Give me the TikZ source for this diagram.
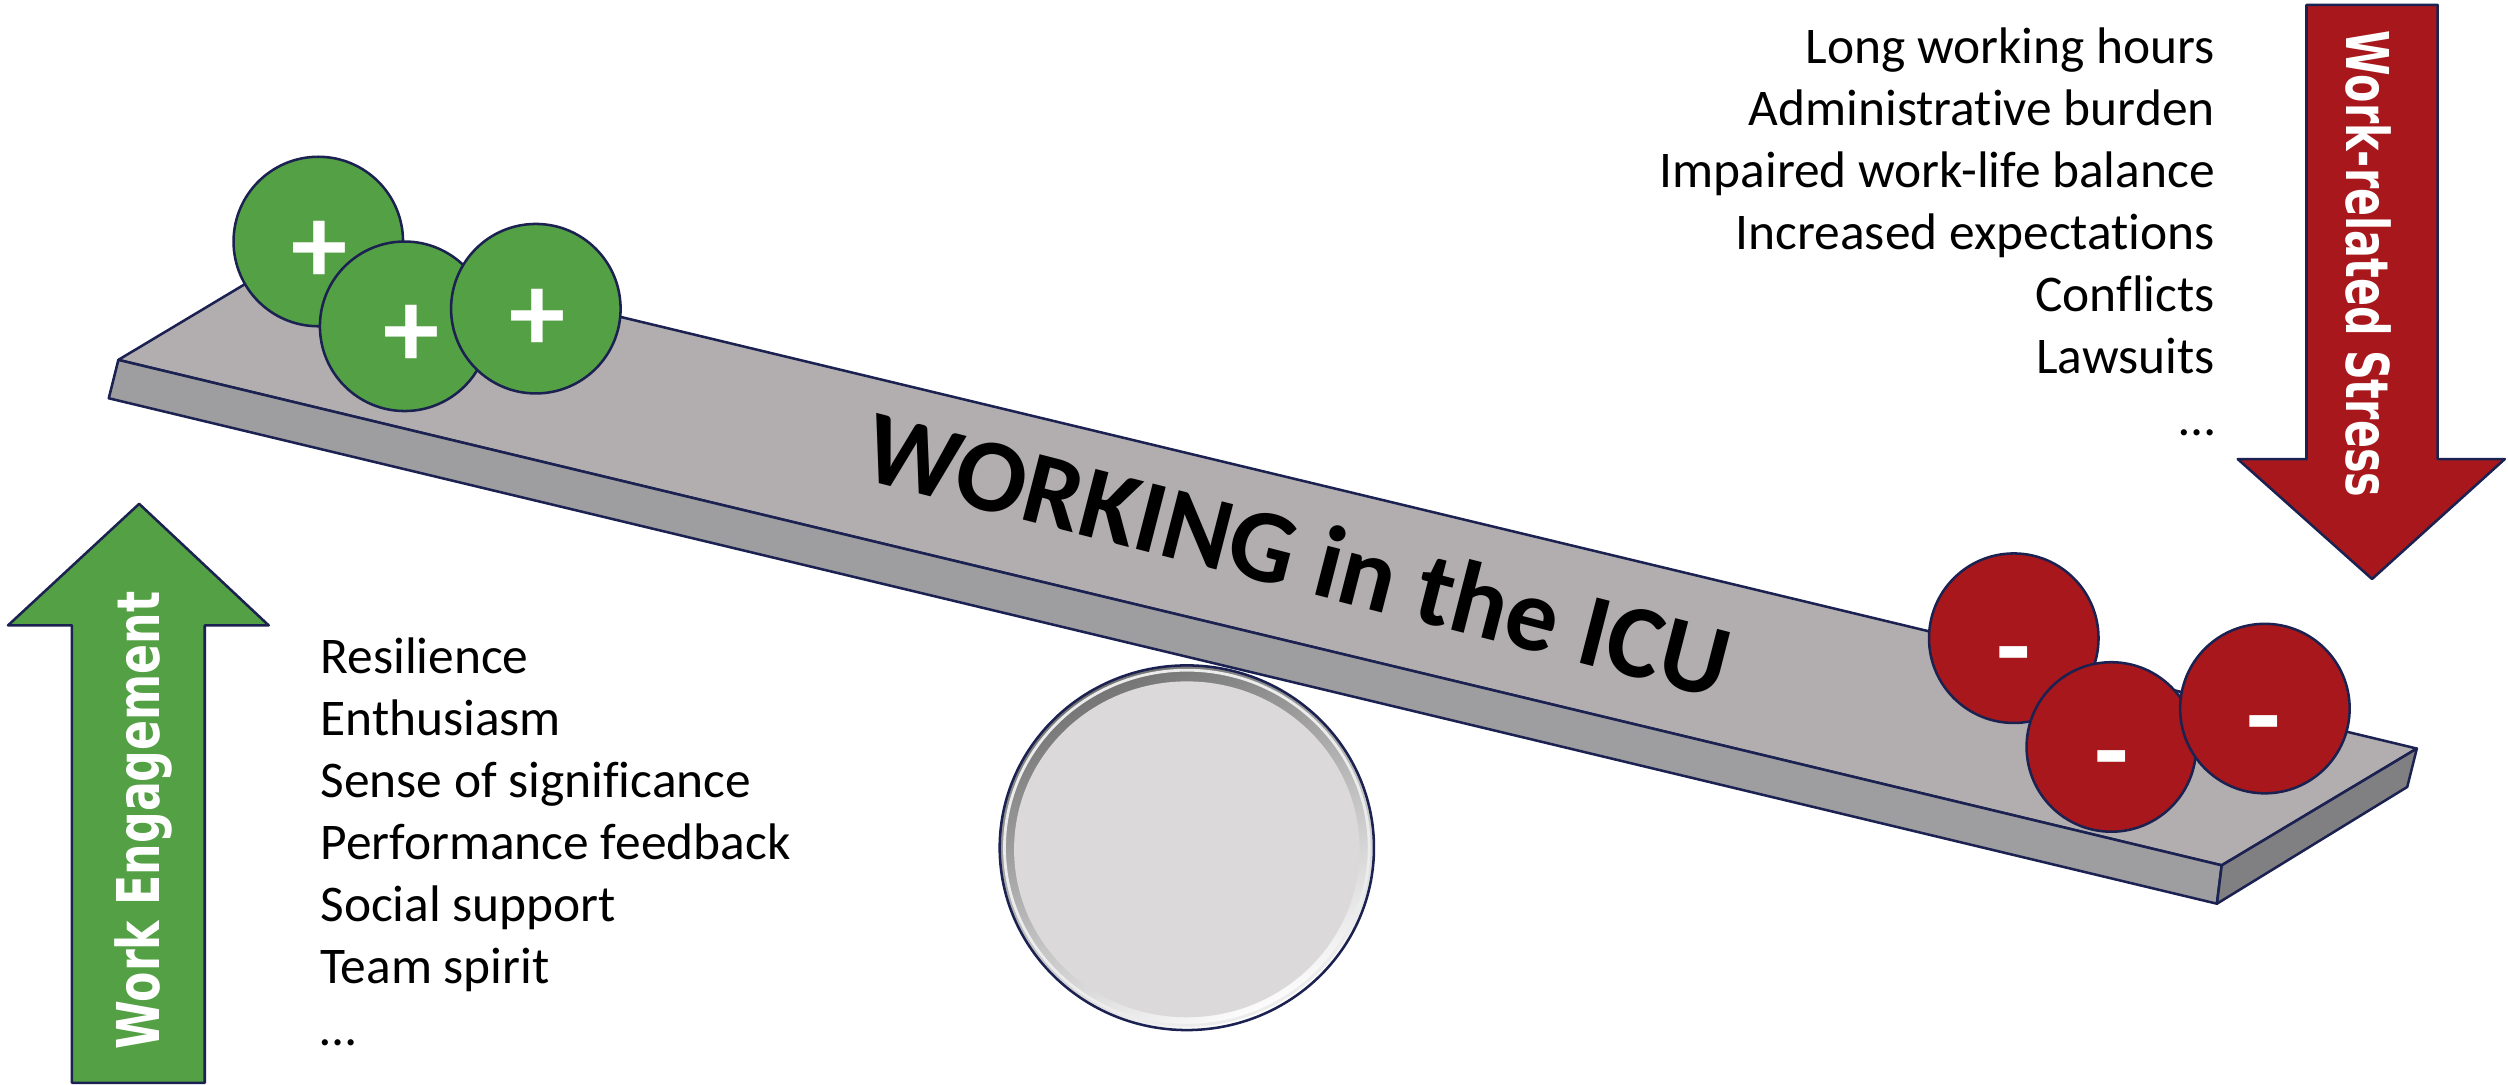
\documentclass[tikz,border=0pt]{standalone}
\usepackage{fontspec}
\setmainfont{Carlito}[Ligatures=NoCommon]
\newfontfamily\arrowfont{DejaVu Sans}
\usetikzlibrary{calc}
\definecolor{navy}{RGB}{27,33,80}
\definecolor{pgreen}{RGB}{84,160,68}
\definecolor{pred}{RGB}{168,23,27}
\definecolor{ptop}{RGB}{178,174,175}
\definecolor{pfront}{RGB}{158,157,160}
\definecolor{pside}{RGB}{128,127,130}
\definecolor{disk}{RGB}{220,217,219}
\begin{document}
\begin{tikzpicture}[x=0.02cm,y=-0.02cm,
  outl/.style={draw=navy,line width=0.9pt,line join=round},
  ballg/.style={circle,outl,fill=pgreen,minimum size=2.12cm,inner sep=0pt},
  ballr/.style={circle,outl,fill=pred,minimum size=2.12cm,inner sep=0pt},
  sign/.style={text=white,font=\fontsize{40}{40}\selectfont\bfseries,inner sep=0pt},
  listtxt/.style={font=\fontsize{18.3}{22}\selectfont,inner sep=0pt},
  arrowtxt/.style={text=white,font=\fontsize{21}{25}\arrowfont\bfseries,inner sep=0pt,anchor=base}
]
\useasboundingbox (0,0) rectangle (1568,678);

% fulcrum
\draw[draw=navy,line width=0.9pt,top color=black!55,bottom color=white,shading angle=25]
  (742,530) ellipse [x radius=117, y radius=114];
\draw[white!85!gray,line width=1pt] (742,530) ellipse [x radius=114, y radius=111];
\fill[disk] (742,531) ellipse [x radius=108, y radius=105];

% plank
\coordinate (FL) at (74,225);
\coordinate (FLb) at (68,249);
\coordinate (FR) at (1389,541);
\coordinate (FRb) at (1386,565);
\coordinate (BR) at (1511,468);
\coordinate (BRb) at (1505,492);
\coordinate (BL) at (196,152);
\draw[outl,fill=ptop] (FL) -- (BL) -- (BR) -- (FR) -- cycle;
\draw[outl,fill=pfront] (FL) -- (FR) -- (FRb) -- (FLb) -- cycle;
\draw[outl,fill=pside] (FR) -- (BR) -- (BRb) -- (FRb) -- cycle;

\node[font=\fontsize{37}{37}\selectfont\bfseries,rotate=-14.4,anchor=base,inner sep=0pt]
  (title) at (806,368) {WORKING in the ICU};

% balls
\node[ballg] (g1) at (199,151) {};
\node[ballg] (g2) at (253,204) {};
\node[ballg] (g3) at (335,193) {};
\node[sign] (p1) at (200,158) {+};
\node[sign] (p2) at (257,210) {+};
\node[sign] (p3) at (336,200) {+};

\node[ballr] (r1) at (1259,399) {};
\node[ballr] (r2) at (1320,467) {};
\node[ballr] (r3) at (1416,443) {};
\node[sign] (m1) at (1259,416) {-};
\node[sign] (m2) at (1320,481) {-};
\node[sign] (m3) at (1415,459) {-};

% arrows
\draw[outl,fill=pgreen] (45,677) -- (45,391) -- (5,391) -- (87,315) -- (168,391) -- (128,391) -- (128,677) -- cycle;
\node[arrowtxt,rotate=90] (we) at (100,513) {\scalebox{0.75}[1]{Work Engagement}};

\draw[outl,fill=pred] (1442,3) -- (1524,3) -- (1524,287) -- (1566,287) -- (1483,362) -- (1399,287) -- (1442,287) -- cycle;
\node[arrowtxt,rotate=-90] (ws) at (1467,165) {\scalebox{0.70}[1]{Work-related Stress}};

% lists
\foreach \t [count=\i] in {Resilience,Enthusiasm,Sense of significance,Performance feedback,Social support,Team spirit,\dots}
  \node[listtxt,anchor=base west] (l\i) at (200,{421+38.8*(\i-1)}) {\t};
\foreach \t [count=\i] in {Long working hours,Administrative burden,Impaired work-life balance,Increased expectations,Conflicts,Lawsuits,\dots}
  \node[listtxt,anchor=base east] (s\i) at (1385,{40+38.7*(\i-1)}) {\t};
\end{tikzpicture}
\end{document}
